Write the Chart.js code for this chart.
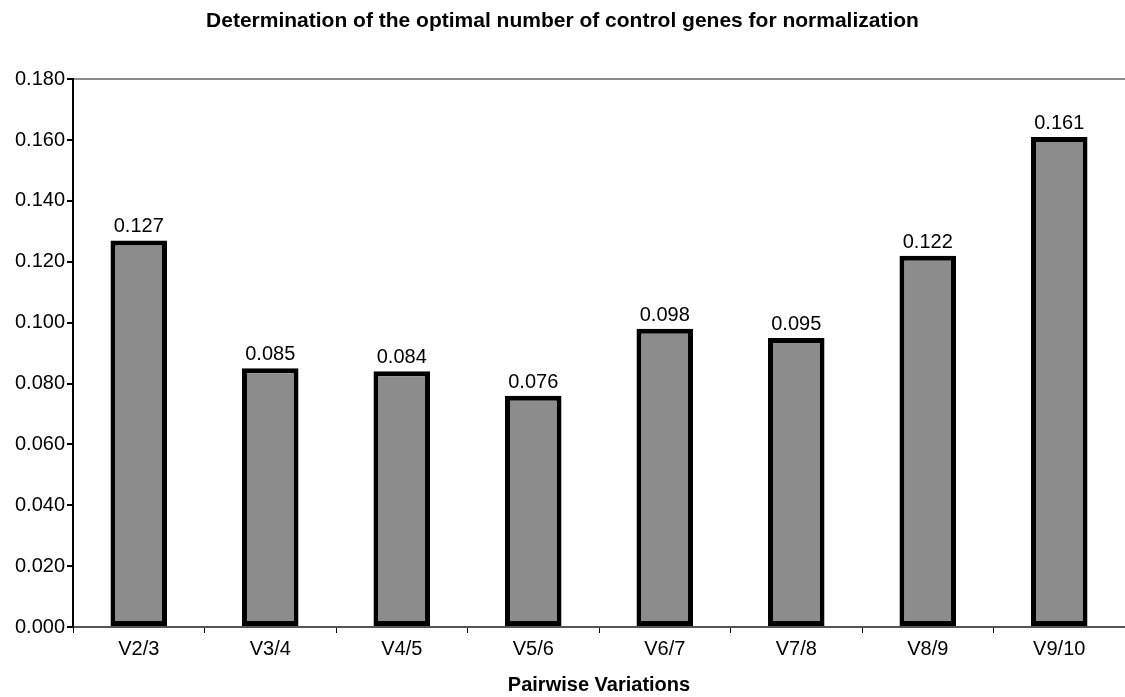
<!DOCTYPE html>
<html>
<head>
<meta charset="utf-8">
<script src="https://cdn.jsdelivr.net/npm/chart.js@4"></script>
<style>
  html, body { margin: 0; padding: 0; background: #fff; }
  #wrap { width: 1125px; height: 697px; }
</style>
</head>
<body>
<div id="wrap"><canvas id="chart1"></canvas></div>
<script>
const categories = ['V2/3', 'V3/4', 'V4/5', 'V5/6', 'V6/7', 'V7/8', 'V8/9', 'V9/10'];
const pairwiseV = [0.127, 0.085, 0.084, 0.076, 0.098, 0.095, 0.122, 0.161];
const yMax = 0.18;
const yStep = 0.02;

const FONT = '"Liberation Sans", Arial, sans-serif';

// value labels above each bar
const barLabels = {
    id: 'barLabels',
    afterDatasetsDraw(chart) {
        const ctx = chart.ctx;
        const meta = chart.getDatasetMeta(0);
        ctx.save();
        ctx.font = '20px ' + FONT;
        ctx.fillStyle = '#000';
        ctx.textAlign = 'center';
        ctx.textBaseline = 'alphabetic';
        meta.data.forEach((bar, i) => {
            ctx.fillText(pairwiseV[i].toFixed(3), bar.x, bar.y - 8);
        });
        ctx.restore();
    }
};

const ctx1 = document.getElementById('chart1').getContext('2d');
const chart1 = new Chart(ctx1, {
    type: 'bar',
    data: {
        labels: categories,
        datasets: [{
            data: pairwiseV,
            backgroundColor: '#8c8c8c',
            borderColor: '#000',
            borderWidth: 5,
            borderSkipped: false,
            barPercentage: 0.43,
            categoryPercentage: 1.0
        }]
    },
    options: {
        responsive: true,
        maintainAspectRatio: false,
        animation: false,
        layout: { padding: { left: 0, right: 0, top: 0, bottom: 0 } },
        plugins: {
            legend: { display: false },
            tooltip: { enabled: false },
            title: {
                display: true,
                text: 'Determination of the optimal number of control genes for normalization',
                color: '#000',
                font: { family: FONT, size: 21, weight: 'bold' },
                padding: { top: 9, bottom: 45 }
            }
        },
        scales: {
            x: {
                grid: {
                    display: true,
                    offset: true,
                    color: 'transparent',
                    tickColor: '#000',
                    tickLength: 6,
                    drawOnChartArea: false
                },
                border: { display: true, color: '#555', width: 2 },
                ticks: {
                    color: '#000',
                    padding: 4,
                    font: { family: FONT, size: 20 }
                },
                title: {
                    display: true,
                    text: 'Pairwise Variations',
                    color: '#000',
                    font: { family: FONT, size: 20, weight: 'bold' },
                    padding: { top: 10, bottom: 0 }
                },
                afterFit(scale) { scale.height = 70; }
            },
            y: {
                min: 0,
                max: yMax,
                grid: {
                    color: (c) => (c.tick && Math.abs(c.tick.value - yMax) < 1e-9) ? '#8c8c8c' : 'transparent',
                    lineWidth: 2,
                    tickColor: '#000',
                    tickLength: 6
                },
                border: { display: true, color: '#000', width: 2 },
                ticks: {
                    stepSize: yStep,
                    color: '#000',
                    padding: 2,
                    font: { family: FONT, size: 20 },
                    callback: (v) => Number(v).toFixed(3)
                },
                afterFit(scale) { scale.width = 73; }
            }
        }
    },
    plugins: [barLabels]
});
</script>
</body>
</html>
